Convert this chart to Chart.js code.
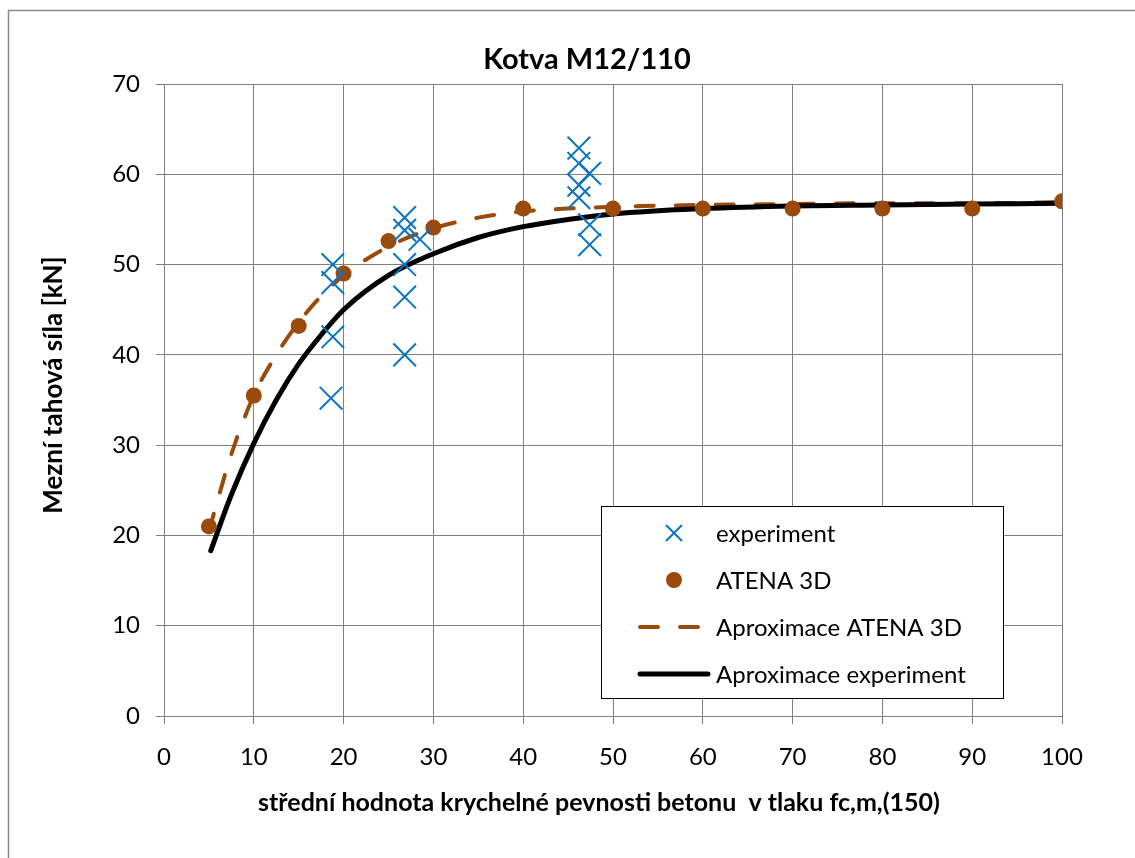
<!DOCTYPE html>
<html>
<head>
<meta charset="utf-8">
<script src="https://cdn.jsdelivr.net/npm/chart.js@4"></script>
<style>
  html, body { margin: 0; padding: 0; background: #fff; }
  #wrap { position: relative; width: 1135px; height: 858px; }
</style>
</head>
<body>
<div id="wrap"><canvas id="chart" width="1135" height="858"></canvas></div>
<script>
// experiment (measured)
const expX = [18.8, 18.8, 18.8, 18.6, 26.8, 26.8, 26.8, 26.8, 26.8, 28.5,
              46.2, 46.2, 46.2, 46.2, 47.4, 47.4, 47.4];
const expY = [50.0, 48.0, 42.0, 35.2, 55.2, 53.8, 50.0, 46.4, 40.0, 52.8,
              62.9, 61.2, 58.8, 57.4, 60.1, 54.4, 52.2];

// ATENA 3D simulation
const atenaX = [5, 10, 15, 20, 25, 30, 40, 50, 60, 70, 80, 90, 100];
const atenaY = [21.0, 35.5, 43.2, 49.0, 52.6, 54.1, 56.2, 56.2, 56.2, 56.2, 56.2, 56.2, 57.0];

// approximation curves
const fitAtenaX = [5, 7.5, 10, 12.5, 15, 17.5, 20, 25, 30, 35, 40, 45, 50, 60, 70, 80, 90, 100];
const fitAtenaY = [20.5, 29.0, 35.5, 40.0, 43.6, 46.5, 48.8, 52.0, 54.0, 55.2, 55.9, 56.2, 56.4, 56.6, 56.7, 56.8, 56.8, 56.9];
const fitExpX = [5.2, 7.5, 10, 12.5, 15, 17.5, 20, 25, 30, 35, 40, 45, 50, 60, 70, 80, 90, 100];
const fitExpY = [18.3, 24.5, 30.2, 35.0, 39.0, 42.2, 45.0, 48.8, 51.2, 53.0, 54.2, 55.0, 55.6, 56.2, 56.5, 56.6, 56.7, 56.8];

const xTicks = [0, 10, 20, 30, 40, 50, 60, 70, 80, 90, 100];
const yTicks = [0, 10, 20, 30, 40, 50, 60, 70];

const chartTitle = "Kotva M12/110";
const xTitle = "střední hodnota krychelné pevnosti betonu  v tlaku fc,m,(150)";
const yTitle = "Mezní tahová síla [kN]";

const blue = "#0a74c4";
const brown = "#9a4a0a";
const gridCol = "#808080";
const FONT = "Lato, 'Open Sans', sans-serif";

const pts = (xs, ys) => xs.map((x, i) => ({ x: x, y: ys[i] }));

// frame, titles (Excel puts them a bit off-centre) and the boxed legend
const frame = {
  id: "frame",
  beforeDraw(chart) {
    const c = chart.ctx;
    c.save();
    c.fillStyle = "#fff";
    c.fillRect(0, 0, chart.width, chart.height);
    c.strokeStyle = "#8a8a8a";
    c.lineWidth = 1.5;
    c.strokeRect(8.5, 10.5, chart.width + 20, chart.height + 20);
    c.restore();
  },
  afterDraw(chart) {
    const c = chart.ctx;
    c.save();
    c.fillStyle = "#000";
    c.textAlign = "center";
    c.textBaseline = "middle";
    c.font = "bold 29px " + FONT;
    c.fillText(chartTitle, 587, 60);
    c.font = "bold 25px " + FONT;
    c.fillText(xTitle, 599, 803);
    c.translate(54, 385);
    c.rotate(-Math.PI / 2);
    c.font = "bold 26px " + FONT;
    c.fillText(yTitle, 0, 0);
    c.restore();

    const x0 = 601, y0 = 506, w = 402, h = 192;
    c.save();
    c.fillStyle = "#fff";
    c.fillRect(x0, y0, w, h);
    c.strokeStyle = "#000";
    c.lineWidth = 1;
    c.strokeRect(x0 + 0.5, y0 + 0.5, w, h);
    c.font = "24px " + FONT;
    c.textBaseline = "middle";
    const rows = [533, 580, 627, 674];
    const mx = 674, tx = 716;
    chart.data.datasets.forEach((ds, i) => {
      const y = rows[i];
      if (ds.showLine === false) {
        c.fillStyle = ds.backgroundColor;
        c.strokeStyle = ds.borderColor;
        c.lineWidth = ds.pointBorderWidth;
        if (ds.pointStyle === "circle") {
          c.beginPath(); c.arc(mx, y, ds.pointRadius, 0, Math.PI * 2); c.fill();
        } else {
          const r = 8;
          c.beginPath();
          c.moveTo(mx - r, y - r); c.lineTo(mx + r, y + r);
          c.moveTo(mx + r, y - r); c.lineTo(mx - r, y + r);
          c.stroke();
        }
      } else {
        c.strokeStyle = ds.borderColor;
        c.lineWidth = ds.borderWidth;
        c.lineCap = "round";
        c.setLineDash(ds.borderDash || []);
        c.beginPath();
        c.moveTo(640, y); c.lineTo(708, y);
        c.stroke();
        c.setLineDash([]);
      }
      c.fillStyle = "#000";
      c.fillText(ds.label, tx, y + 1);
    });
    c.restore();
  }
};

const ctx = document.getElementById("chart").getContext("2d");
const chart = new Chart(ctx, {
  type: "scatter",
  data: {
    datasets: [
      {
        label: "experiment",
        data: pts(expX, expY),
        showLine: false,
        pointStyle: "crossRot",
        pointRadius: 16,
        pointBorderWidth: 2,
        borderColor: blue,
        backgroundColor: blue,
        order: 0,
      },
      {
        label: "ATENA 3D",
        data: pts(atenaX, atenaY),
        showLine: false,
        pointStyle: "circle",
        pointRadius: 8,
        pointBorderWidth: 0,
        borderColor: brown,
        backgroundColor: brown,
        order: 1,
      },
      {
        label: "Aproximace ATENA 3D",
        data: pts(fitAtenaX, fitAtenaY),
        showLine: true,
        borderColor: brown,
        borderWidth: 4,
        borderDash: [18, 22],
        borderCapStyle: "round",
        cubicInterpolationMode: "monotone",
        pointRadius: 0,
        order: 3,
      },
      {
        label: "Aproximace experiment",
        data: pts(fitExpX, fitExpY),
        showLine: true,
        borderColor: "#000",
        borderWidth: 5,
        borderCapStyle: "round",
        cubicInterpolationMode: "monotone",
        pointRadius: 0,
        order: 2,
      },
    ],
  },
  options: {
    responsive: false,
    animation: false,
    layout: { padding: { left: 0, right: 73, top: 84, bottom: 0 } },
    scales: {
      x: {
        type: "linear",
        min: 0,
        max: 100,
        afterBuildTicks: (s) => { s.ticks = xTicks.map((v) => ({ value: v })); },
        afterFit: (s) => { s.height = 142; },
        grid: { color: gridCol, lineWidth: 1, tickLength: 8, drawTicks: true },
        border: { color: gridCol, width: 1 },
        ticks: { color: "#000", font: { family: FONT, size: 24 }, padding: 19, maxRotation: 0 },
        title: { display: false },
      },
      y: {
        type: "linear",
        min: 0,
        max: 70,
        afterBuildTicks: (s) => { s.ticks = yTicks.map((v) => ({ value: v })); },
        afterFit: (s) => { s.width = 164; },
        grid: { color: gridCol, lineWidth: 1, tickLength: 8 },
        border: { color: gridCol, width: 1 },
        ticks: { color: "#000", font: { family: FONT, size: 24 }, padding: 16 },
        title: { display: false },
      },
    },
    plugins: {
      legend: { display: false },
      tooltip: { enabled: false },
      title: { display: false },
    },
  },
  plugins: [frame],
});
</script>
</body>
</html>
